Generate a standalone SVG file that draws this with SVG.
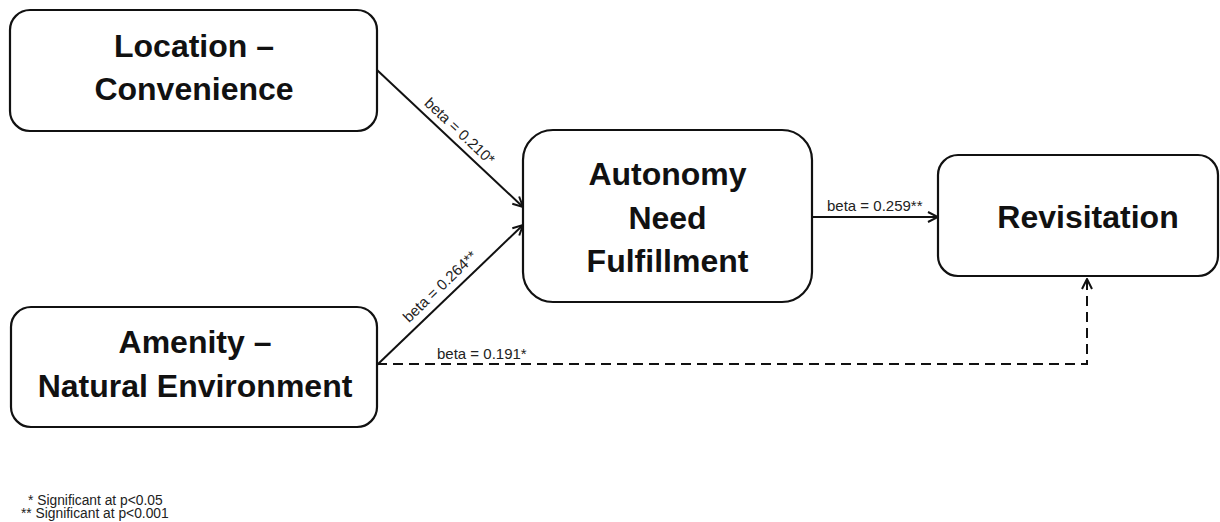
<svg xmlns="http://www.w3.org/2000/svg" width="1220" height="522" viewBox="0 0 1220 522">
  <style>
    .box { fill: #ffffff; stroke: #111111; stroke-width: 2.2; }
    .title { font-family: "Liberation Sans", Arial, sans-serif; font-weight: bold; font-size: 32px; fill: #111111; text-anchor: middle; }
    .edge { fill: none; stroke: #111111; stroke-width: 2; }
    .dash { stroke-dasharray: 10 6; }
    .lbl { font-family: "Liberation Sans", Arial, sans-serif; font-size: 15px; fill: #222222; }
    .note { font-family: "Liberation Sans", Arial, sans-serif; font-size: 13.8px; fill: #222222; }
  </style>
  <defs>
    <marker id="head" viewBox="0 0 12 12" refX="11" refY="6" markerWidth="12" markerHeight="12" markerUnits="userSpaceOnUse" orient="auto">
      <path d="M1,1 L11,6 L1,11" fill="none" stroke="#111111" stroke-width="2"/>
    </marker>
  </defs>

  <rect width="1220" height="522" fill="#ffffff"/>

  <g id="location-convenience">
    <rect class="box" x="10" y="10" width="367" height="121" rx="20" ry="20"/>
    <text class="title" x="194" y="57">Location –</text>
    <text class="title" x="194" y="100">Convenience</text>
  </g>

  <g id="amenity-natural-environment">
    <rect class="box" x="11" y="307" width="366" height="120" rx="20" ry="20"/>
    <text class="title" x="195" y="353">Amenity –</text>
    <text class="title" x="195" y="397">Natural Environment</text>
  </g>

  <g id="autonomy-need-fulfillment">
    <rect class="box" x="523" y="130" width="289" height="172" rx="30" ry="30"/>
    <text class="title" x="667.5" y="185">Autonomy</text>
    <text class="title" x="667.5" y="228.5">Need</text>
    <text class="title" x="667.5" y="272">Fulfillment</text>
  </g>

  <g id="revisitation">
    <rect class="box" x="938" y="155" width="280" height="121" rx="20" ry="20"/>
    <text class="title" x="1088" y="228">Revisitation</text>
  </g>

  <g id="connectors">
    <line class="edge" x1="377" y1="70" x2="523" y2="207" marker-end="url(#head)"/>
    <line class="edge" x1="377" y1="365" x2="523" y2="225" marker-end="url(#head)"/>
    <line class="edge" x1="812" y1="217" x2="938" y2="217" marker-end="url(#head)"/>
    <path class="edge dash" d="M377,364 H1087 V279" marker-end="url(#head)"/>

    <text class="lbl" text-anchor="middle" transform="translate(451.5,140) rotate(43.2)" y="-7">beta = 0.210*</text>
    <text class="lbl" text-anchor="middle" transform="translate(449,296) rotate(-43.8)" y="-8">beta = 0.264**</text>
    <text class="lbl" x="827" y="211">beta = 0.259**</text>
    <text class="lbl" x="437" y="359">beta = 0.191*</text>
  </g>

  <g id="footnote">
    <text class="note" x="28" y="505">* Significant at p&lt;0.05</text>
    <text class="note" x="21" y="518">** Significant at p&lt;0.001</text>
  </g>
</svg>
